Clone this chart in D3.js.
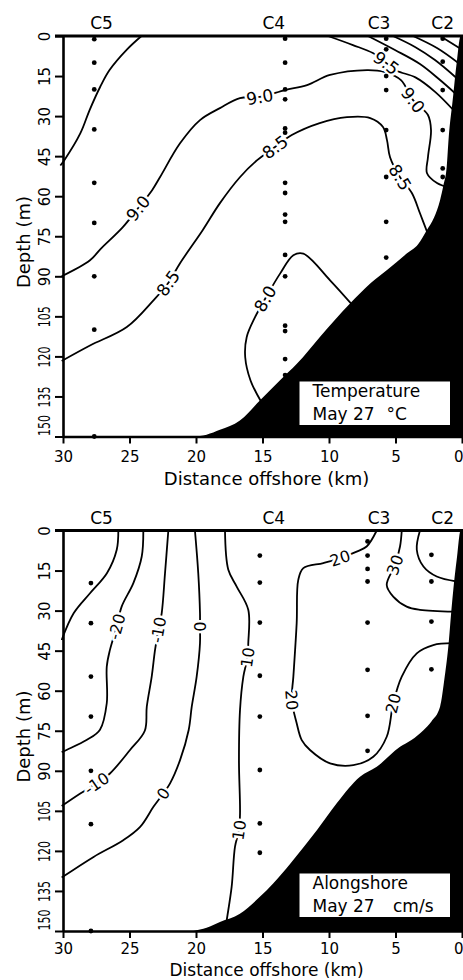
<!DOCTYPE html>
<html><head><meta charset="utf-8">
<script src="https://cdn.jsdelivr.net/npm/d3@7"></script>
<style>body{margin:0;background:#fff}svg{display:block}</style>
</head><body>
<script>
// ---------- shared data ----------
const stations = ["C5", "C4", "C3", "C2"];
const stationLabelKm = [27.1, 14.15, 6.24, 1.45];
const xTicks = [30, 25, 20, 15, 10, 5, 0];
const yTicks = [0, 15, 30, 45, 60, 75, 90, 105, 120, 135, 150];

// ---------- temperature panel (°C) ----------
const tempStationKm = [27.65, 13.3, 5.7, 1.45];
const tempSampleDepths = [
  [1.2, 10, 20, 35, 55, 70, 90, 110, 150],
  [1, 10, 20, 23.7, 34.6, 36.2, 55, 58.8, 66.9, 69.6, 82, 90, 108.5, 110.5, 121, 127],
  [1, 5, 15, 20.25, 35.25, 52.8, 69.6, 83, 89.6],
  [1, 9.6, 20.25, 35.25, 49.6, 52.8]
];
const tempBottom = [[-0.5,0],[0.1,0],[0.4,10],[0.7,24],[1.0,38],[1.15,49],[1.4,56],[1.65,61.5],[2.1,68],[2.65,72.75],[3.3,78],[4.16,81.5],[5.66,87.75],[6.9,92.7],[8.42,100.2],[10.7,112.8],[12.4,122.7],[13.7,129],[15.2,136.5],[16.7,144],[18.2,147.5],[19.2,149.3],[20.2,150]];
// contour lines: [km offshore, depth m]
const temp95off = [[24.1,0],[25.2,5.1],[26.5,12.75],[27.2,19],[28.0,27.75],[28.7,36.5],[29.9,46.5],[30.2,48.5]];
const temp90 = [[30.1,90],[27.97,84],[27.2,79.9],[25.5,71.6],[24.36,64.5],[23.3,57.75],[22.7,52.8],[21.2,40.2],[19.7,31.5],[18.2,27],[16.7,23.25],[15.2,22.8],[13.3,20.25],[11.65,18.4],[9.92,14.6],[7.14,12.75],[5.79,13.5],[4.59,16.5],[3.68,24],[2.56,29.6],[2.33,35.25],[2.56,45.4],[2.63,51.4],[1.88,55.1],[1.0,56.8]];
const temp90Labels = [4, 11, 18];
const temp85 = [[30.1,121.7],[27.97,115.9],[25.2,109],[23.2,99],[22.1,92.6],[21.2,85.1],[19.5,72.75],[18.2,62.6],[16.7,52.9],[15.4,46.5],[14.06,41.6],[12.8,37.1],[10.7,32.6],[8.65,30.4],[6.9,30.75],[5.94,34.1],[5.64,39],[5.41,45.4],[4.66,52.9],[3.76,58.9],[3.16,66.4],[2.5,75]];
const temp85Labels = [4, 10, 18];
const temp80 = [[8.2,101],[9.92,91.5],[11.93,81.5],[12.68,82.1],[13.68,89],[14.8,98.4],[15.56,105.3],[16.19,112.8],[16.3,120.3],[15.9,129],[15.1,137]];
const temp80Labels = [5];
const temp95 = [[10.08,0],[8.2,3.4],[6.7,6.4],[5.7,10.1],[4.9,13],[3.5,15.5],[2.0,21],[0.6,28]];
const temp95Labels = [3];
const temp100 = [[7.07,0],[5.04,5.25],[3.16,10.5],[1.65,16.5],[0.4,22]];
const temp105 = [[5.19,0],[3.53,4.1],[2.03,9],[0.35,16]];
const temp110 = [[3.68,0],[1.88,4.5],[0.3,10]];
const temp115 = [[1.65,0],[0.2,4.5]];

// ---------- alongshore panel (cm/s) ----------
const alongStationKm = [27.9, 15.2, 7.1, 2.3];
const alongSampleDepths = [
  [19.7, 34.7, 54.7, 69.7, 90, 110, 150],
  [9.4, 19.5, 34.5, 54.4, 69.7, 89.7, 109.7, 120.7],
  [4.1, 9.4, 14.4, 19.1, 34.5, 52.2, 69.4, 82.5],
  [9.1, 19.1, 34.1, 52]
];
const alongBottom = [[-0.5,0],[0.1,0],[0.4,11],[0.65,22],[0.8,30],[1.0,42],[1.3,54.7],[1.65,66],[2.3,71.5],[2.9,74.8],[3.8,78.5],[4.66,81],[6.41,88.5],[7.67,92.25],[9.42,102.2],[10.9,112.2],[12.9,124.7],[14.2,132.2],[15.2,137.2],[16.7,143.5],[18.2,146.6],[19.2,148.8],[20.2,150]];
const alongM30 = [[25.84,0],[25.96,7.2],[26.7,16],[27.97,23.5],[29.2,31],[30.1,41]];
const alongM20 = [[23.96,0],[24.08,9.75],[24.71,19.7],[25.59,28.5],[25.96,36],[26.47,44.7],[26.71,51],[26.71,64.7],[27.22,74.6],[28.2,78.4],[29.7,82.1],[30.1,83]];
const alongM20Labels = [4];
const alongM10 = [[22.08,0],[22.33,16],[22.58,31],[22.83,37.2],[23.08,44.7],[23.33,54.75],[23.7,66],[23.85,75],[24.96,82.2],[26.47,91],[27.47,94.7],[28.7,98.5],[30.1,103.2]];
const alongM10Labels = [3, 10];
const along0 = [[20.08,0],[19.83,16],[19.7,31],[19.7,36],[19.7,42.2],[19.95,54.75],[20.32,66],[20.55,74.7],[21.2,86],[21.95,94.7],[22.46,98.5],[23.2,103.5],[24.2,111],[25.47,116],[27.7,122.25],[30.1,130]];
const along0Labels = [3, 10];
const along10 = [[17.82,0],[17.57,14.7],[16.94,21],[16.07,29.7],[16.07,42.2],[16.13,47.5],[16.44,54.75],[16.69,67.2],[16.77,86],[16.69,106],[16.77,112.2],[17.07,118.5],[17.32,133.5],[17.69,146],[17.8,150]];
const along10Labels = [5, 10];
const along20 = [[6.41,0],[7.17,6],[7.92,7.9],[9.17,10.35],[10.43,12.2],[11.93,14.1],[12.31,18.5],[12.43,34.7],[12.68,54.75],[12.8,63.5],[12.43,72.2],[12.05,78.5],[11.43,82.2],[9.92,87.2],[8.17,87.9],[6.67,84.75],[5.66,77.25],[5.17,64.7],[4.53,54.75],[3.4,46],[2.16,42.9],[0.7,42.2]];
const along20Labels = [3, 9, 17];
const along30 = [[4.53,0],[4.66,6],[5.04,12.9],[5.66,20.4],[5.17,24.75],[4.16,28.5],[3.16,29.7],[0.6,30.4]];
const along30Labels = [2];
const along40 = [[3.16,0],[3.4,7.2],[2.9,13.5],[1.9,17.25],[0.4,19.1]];

// ---------- drawing ----------
const FONT = "DejaVu Sans";
const svg = d3.select("body").append("svg").attr("width", 463).attr("height", 980);
const x = d3.scaleLinear().domain([30, 0]).range([63, 462]);

function panel(cfg) {
  const y = d3.scaleLinear().domain([0, 150]).range([cfg.top, cfg.top + 400.5]);
  const g = svg.append("g").attr("font-family", FONT);
  const line = d3.line().x(d => x(d[0])).y(d => y(d[1])).curve(d3.curveCatmullRom.alpha(0.5));

  cfg.contours.forEach(c => {
    g.append("path").attr("d", line(c.pts)).attr("fill", "none")
      .attr("stroke", "#000").attr("stroke-width", 1.8).attr("stroke-linejoin", "round");
  });
  cfg.contours.forEach(c => (c.labels || []).forEach(i => {
    const p = c.pts[i], a = c.pts[i - 1], b = c.pts[i + 1];
    let ang = Math.atan2(y(b[1]) - y(a[1]), x(b[0]) - x(a[0])) * 180 / Math.PI;
    if (ang > 90) ang -= 180;
    if (ang < -90) ang += 180;
    g.append("text")
      .attr("transform", `translate(${x(p[0])},${y(p[1])}) rotate(${ang})`)
      .attr("text-anchor", "middle").attr("dy", "0.36em")
      .attr("font-size", cfg.labelSize)
      .attr("stroke", "#fff").attr("stroke-width", 5).attr("stroke-linejoin", "round")
      .attr("paint-order", "stroke").attr("fill", "#000")
      .text(c.text);
  }));

  // bathymetry
  const area = d3.area().x(d => x(d[0])).y0(d => y(d[1])).y1(y(150) + 1).curve(d3.curveMonotoneX);
  const bot = cfg.bottom.slice().sort((p, q) => q[0] - p[0]);
  g.append("path").attr("d", area(bot)).attr("fill", "#000");

  // sample dots
  cfg.stationKm.forEach((km, i) => {
    g.selectAll(null).data(cfg.samples[i]).enter().append("circle")
      .attr("cx", x(km)).attr("cy", d => y(d)).attr("r", 2.4).attr("fill", "#000");
  });

  // axes
  const ya = d3.axisLeft(y).tickValues(yTicks).tickSize(8).tickSizeOuter(0);
  const gy = g.append("g").attr("transform", "translate(63,0)").call(ya);
  gy.attr("font-family", FONT).attr("font-size", 15);
  gy.select(".domain").attr("stroke-width", 2.6);
  gy.selectAll(".tick line").attr("stroke-width", 2);
  gy.selectAll(".tick text")
    .attr("x", 0).attr("dy", 0).attr("fill", "#000")
    .attr("text-anchor", d => d === 150 ? "start" : "middle")
    .attr("transform", d => d === 150 ? "translate(-13,-1) rotate(-90)" : "translate(-13,0) rotate(-90)")
    .each(function(d) {
      if (String(d).length === 3) d3.select(this).attr("textLength", 21).attr("lengthAdjust", "spacingAndGlyphs");
    });

  const xa = d3.axisBottom(x).tickValues(xTicks).tickSize(7).tickSizeOuter(0).tickPadding(cfg.tickPad);
  const gx = g.append("g").attr("transform", `translate(0,${y(150)})`).call(xa);
  gx.attr("font-family", FONT).attr("font-size", 15);
  gx.select(".domain").attr("stroke-width", 2.6);
  gx.selectAll(".tick line").attr("stroke-width", 2);
  gx.selectAll(".tick text").attr("fill", "#000")
    .attr("text-anchor", d => d === 0 ? "end" : "middle")
    .attr("x", d => d === 0 ? 1 : 0);

  g.append("line").attr("x1", 55).attr("x2", 463).attr("y1", y(0)).attr("y2", y(0))
    .attr("stroke", "#000").attr("stroke-width", 2.8);

  // station labels
  g.selectAll(null).data(stations).enter().append("text")
    .attr("x", (d, i) => x(stationLabelKm[i])).attr("y", y(0) - 7)
    .attr("text-anchor", "middle").attr("font-size", 17).text(d => d);

  // axis titles
  g.append("text").attr("transform", `translate(30,${y(0) + 206}) rotate(-90)`)
    .attr("text-anchor", "middle").attr("font-size", 18).text("Depth (m)");
  g.append("text").attr("x", 266.5).attr("y", y(150) + cfg.xTitleGap)
    .attr("text-anchor", "middle").attr("font-size", cfg.xTitleSize).text("Distance offshore (km)");

  // legend box
  g.append("rect").attr("x", 299.5).attr("y", cfg.boxY).attr("width", 150.5).attr("height", 43.5).attr("fill", "#fff");
  g.append("text").attr("x", 312.5).attr("y", cfg.boxY + 15.5).attr("font-size", 17).text(cfg.title);
  g.append("text").attr("x", 312.5).attr("y", cfg.boxY + 38.5).attr("font-size", 17).text("May 27");
  g.append("text").attr("x", cfg.unitX).attr("y", cfg.boxY + 38.5).attr("font-size", 17).text(cfg.unit);
}

panel({
  top: 36, labelSize: 17, tickPad: 8, xTitleGap: 48, xTitleSize: 18, boxY: 381.5, title: "Temperature", unit: "°C", unitX: 386.5,
  stationKm: tempStationKm, samples: tempSampleDepths, bottom: tempBottom,
  contours: [
    {pts: temp95off},
    {pts: temp90, labels: temp90Labels, text: "9.0"},
    {pts: temp85, labels: temp85Labels, text: "8.5"},
    {pts: temp80, labels: temp80Labels, text: "8.0"},
    {pts: temp95, labels: temp95Labels, text: "9.5"},
    {pts: temp100}, {pts: temp105}, {pts: temp110}, {pts: temp115}
  ]
});

panel({
  top: 530.5, labelSize: 16, tickPad: 5.5, xTitleGap: 45, xTitleSize: 17, boxY: 873.5, title: "Alongshore", unit: "cm/s", unitX: 393,
  stationKm: alongStationKm, samples: alongSampleDepths, bottom: alongBottom,
  contours: [
    {pts: alongM30},
    {pts: alongM20, labels: alongM20Labels, text: "-20"},
    {pts: alongM10, labels: alongM10Labels, text: "-10"},
    {pts: along0, labels: along0Labels, text: "0"},
    {pts: along10, labels: along10Labels, text: "10"},
    {pts: along20, labels: along20Labels, text: "20"},
    {pts: along30, labels: along30Labels, text: "30"},
    {pts: along40}
  ]
});
</script>
</body></html>
